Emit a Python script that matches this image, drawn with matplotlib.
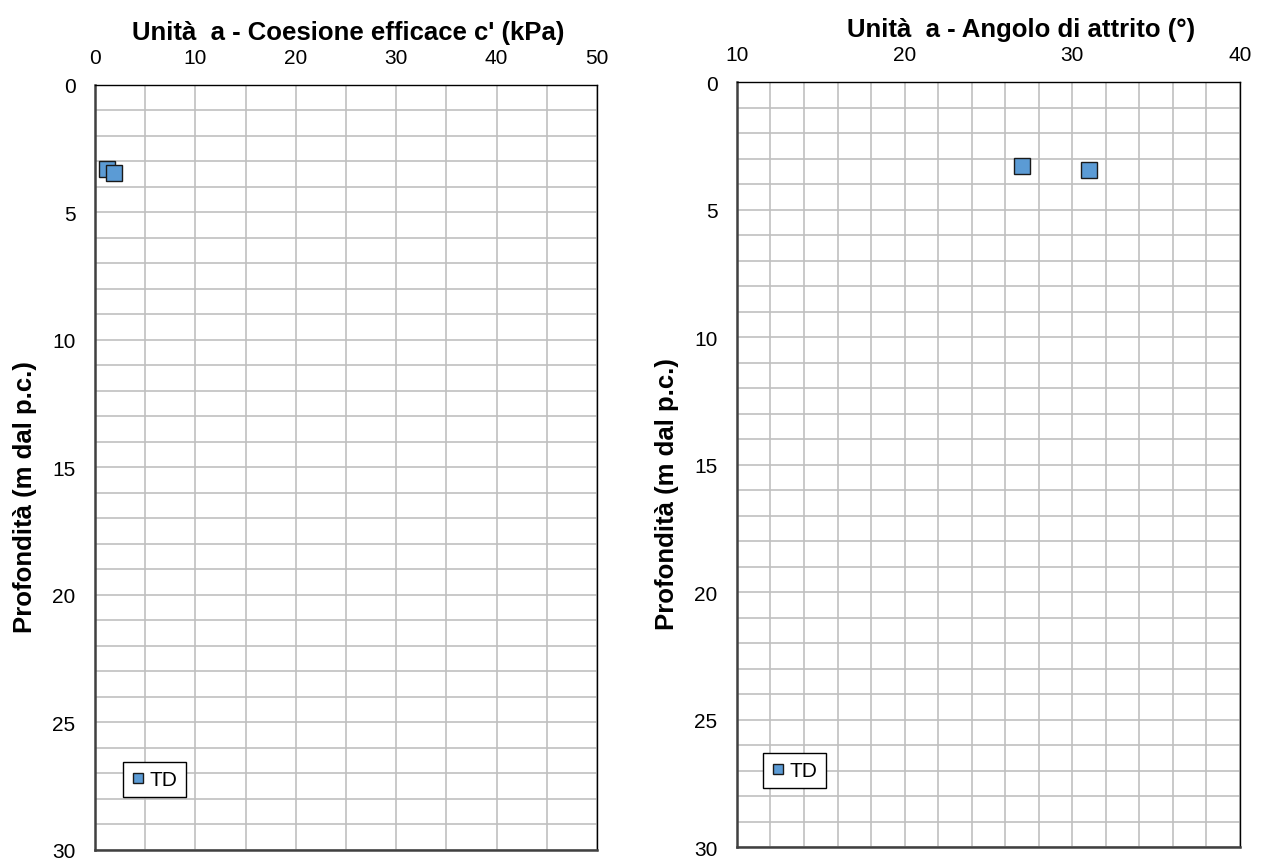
import matplotlib.pyplot as plt
import numpy as np

plt.rcParams['font.family'] = ['Liberation Sans', 'DejaVu Sans']

# Prove TD - unità a
profondita = [3.28, 3.45]
coesione = [1.2, 1.9]
attrito = [27.0, 31.0]

colore = '#5b9bd5'
griglia = '#c0c0c0'


def prepara_asse(ax, xlim, passo_etichette, passo_griglia, titolo, x_titolo):
    ax.set_xlim(*xlim)
    ax.set_ylim(30, 0)
    ax.xaxis.tick_top()
    ax.set_xticks(np.arange(xlim[0], xlim[1] + 0.1, passo_etichette))
    ax.set_xticks(np.arange(xlim[0], xlim[1] + 0.1, passo_griglia), minor=True)
    ax.set_yticks(np.arange(0, 31, 5))
    ax.set_yticks(np.arange(0, 31, 1), minor=True)
    ax.tick_params(which='both', length=0)
    ax.tick_params(axis='x', labelsize=15, pad=12.7)
    ax.tick_params(axis='y', labelsize=15, pad=14)
    ax.grid(which='both', color=griglia, linewidth=1.2)
    ax.set_axisbelow(True)
    for lato in ['left', 'bottom']:
        ax.spines[lato].set_color('#404040')
        ax.spines[lato].set_linewidth(1.8)
    for lato in ['top', 'right']:
        ax.spines[lato].set_color('black')
        ax.spines[lato].set_linewidth(1.0)
    ax.set_title(titolo, fontsize=18.5, fontweight='bold', pad=7, x=x_titolo)
    ax.set_ylabel('Profondità (m dal p.c.)', fontsize=18.5, fontweight='bold')
    ax.yaxis.set_label_coords(-0.115, 0.463)


fig = plt.figure(figsize=(12.63, 8.62), dpi=100)
ax1 = fig.add_axes([0.0752, 0.0128, 0.3975, 0.8875])
ax2 = fig.add_axes([0.5835, 0.0162, 0.3983, 0.8875])

prepara_asse(ax1, (0, 50), 10, 5, "Unità  a - Coesione efficace c' (kPa)", 0.505)
prepara_asse(ax2, (10, 40), 10, 2, 'Unità  a - Angolo di attrito (°)', 0.565)

for ax, valori in [(ax1, coesione), (ax2, attrito)]:
    ax.plot(valori, profondita, linestyle='none', marker='s', markersize=11.5,
            markerfacecolor=colore, markeredgecolor='#1a1a1a', markeredgewidth=1.0,
            label='TD', clip_on=False, zorder=5)

for ax, pos in [(ax1, (0.056, 0.069)), (ax2, (0.052, 0.077))]:
    leg = ax.legend(loc='lower left', bbox_to_anchor=pos, fontsize=15, fancybox=False,
                    edgecolor='black', framealpha=1, markerscale=0.65,
                    handlelength=0.7, handletextpad=0.2, borderpad=0.38,
                    borderaxespad=0)
    leg.get_frame().set_linewidth(1.0)

fig.savefig('out.png', dpi=100)
